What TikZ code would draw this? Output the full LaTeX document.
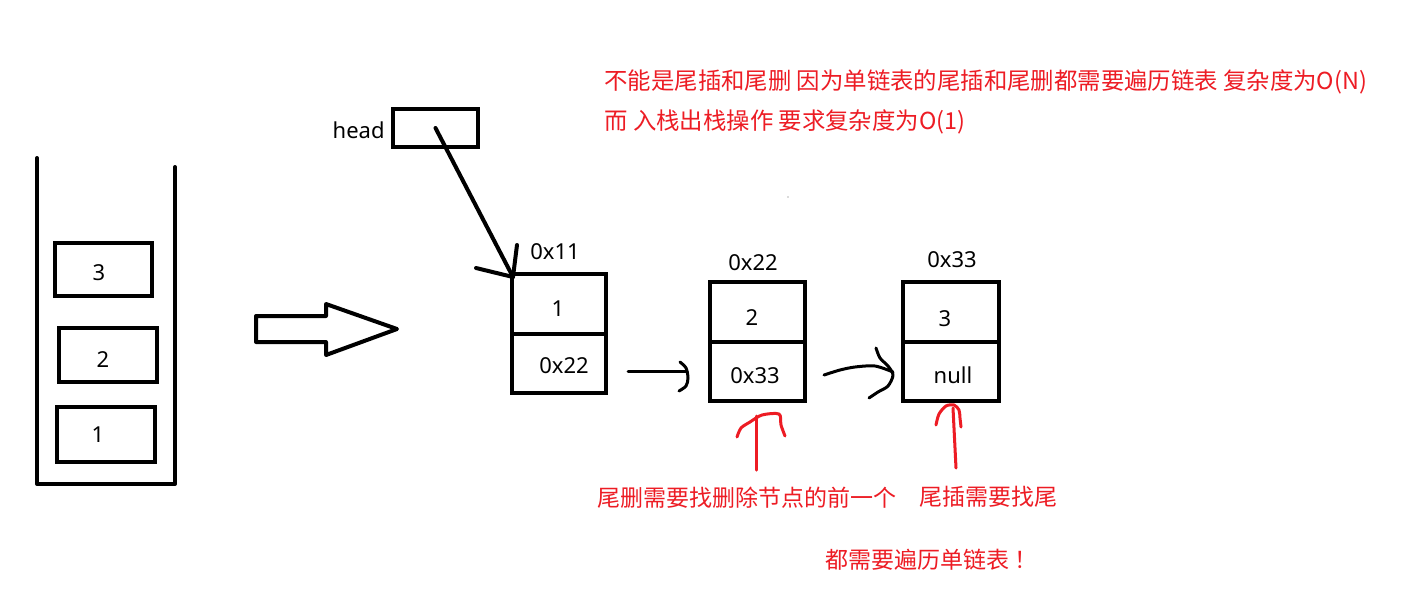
\documentclass[tikz,border=0pt]{standalone}
\usepackage{fontspec}
\setmainfont{Noto Sans}
\newfontfamily\cjk{Noto Sans CJK SC}
\definecolor{pred}{RGB}{237,28,36}
\tikzset{
  thick4/.style={line width=2pt, line join=round, line cap=round},
  cell/.style={draw, line width=2pt, inner sep=0pt},
  lbl/.style={inner sep=0pt, font=\fontsize{11}{13}\selectfont},
  pen/.style={line width=1.5pt, line cap=round, line join=round},
  redpen/.style={line width=1.5pt, line cap=round, line join=round, draw=pred},
  rtext/.style={inner sep=0pt, text=pred, font=\cjk\fontsize{11.5}{13}\selectfont}
}
\begin{document}
\begin{tikzpicture}[x=0.5pt,y=-0.5pt]
\useasboundingbox (0,0) rectangle (1424,601);
\fill[white] (0,0) rectangle (1424,601);

% stack
\draw[thick4] (37,158) -- (37,484) -- (175,484) -- (175,167);
\node[cell, minimum width=48.5pt, minimum height=26.5pt] (s3) at (103.5,269.5) {};
\node[cell, minimum width=49pt, minimum height=27pt] (s2) at (108,355) {};
\node[cell, minimum width=49pt, minimum height=27.5pt] (s1) at (106,434.5) {};
\node[lbl] (s3t) at (99,273) {3};
\node[lbl] (s2t) at (103,360) {2};
\node[lbl] (s1t) at (98,435) {1};

% hollow arrow
\draw[thick4] (256,316) -- (326,316) -- (326,304) -- (397,329) -- (326,355) -- (326,342) -- (256,342) -- cycle;

% head
\node[cell, minimum width=42.5pt, minimum height=19pt] (head) at (435.5,128) {};
\node[lbl, anchor=east] (headl) at (385,130) {head};

% node 1
\node[cell, minimum width=47pt, minimum height=30pt] (n1v) at (559,304) {};
\node[cell, minimum width=47pt, minimum height=29.5pt] (n1p) at (559,363.5) {};
\node[lbl] (n1vt) at (558,309) {1};
\node[lbl] (n1pt) at (564,366) {0x22};
\node[lbl] (n1a) at (555,252) {0x11};

% node 2
\node[cell, minimum width=47.5pt, minimum height=30pt] (n2v) at (757.5,312) {};
\node[cell, minimum width=47.5pt, minimum height=29.5pt] (n2p) at (757.5,371.5) {};
\node[lbl] (n2vt) at (752,318) {2};
\node[lbl] (n2pt) at (755,376) {0x33};
\node[lbl] (n2a) at (753,263) {0x22};

% node 3
\node[cell, minimum width=48pt, minimum height=30pt] (n3v) at (951,312) {};
\node[cell, minimum width=48pt, minimum height=29.5pt] (n3p) at (951,371.5) {};
\node[lbl] (n3vt) at (945,319) {3};
\node[lbl] (n3pt) at (953,375) {null};
\node[lbl] (n3a) at (952,260) {0x33};

% head -> node1
\coordinate (tip) at (513,277);
\draw[pen, line width=2pt] (head.center) -- (tip);
\draw[pen, line width=2pt] (476,268) -- (tip) -- (517,245);

% node1 -> node2
\coordinate (a1s) at (628,371);
\coordinate (a1e) at (687,371);
\draw[pen] (a1s) -- (a1e);
\draw[pen] plot[smooth] coordinates {(680,362) (686,368) (688,378) (686,386) (679,391)};

% node2 -> node3
\coordinate (a2s) at (824,375);
\coordinate (a2e) at (893,372);
\draw[pen] plot[smooth] coordinates {(a2s) (840,370) (855,367) (875,366) (a2e)};
\draw[pen] plot[smooth] coordinates {(876,348) (880,358) (888,366) (893,375) (888,386) (878,392) (869,398)};

% red arrows
\coordinate (r1b) at (756,470);
\coordinate (r1t) at (756,416);
\draw[redpen] (r1b) -- (r1t);
\draw[redpen] plot[smooth] coordinates {(737,437) (741,428) (750,422) (762,415) (779,414) (781,425) (785,436)};
\coordinate (r2b) at (956,468);
\coordinate (r2t) at (953,408);
\draw[redpen] (r2b) -- (r2t);
\draw[redpen] plot[smooth] coordinates {(936,425) (939,414) (946,406) (954,405) (959,410) (960,418) (961,427)};

% stray dot
\fill[black!60] (788,197) circle (0.6);

% red texts
\node[rtext, anchor=west, font=\cjk\fontsize{11.7}{13}\selectfont] (t1) at (604,82) {不能是尾插和尾删 因为单链表的尾插和尾删都需要遍历链表 复杂度为O(N)};
\node[rtext, anchor=west, font=\cjk\fontsize{11.7}{13}\selectfont] (t2) at (604,122) {而 入栈出栈操作 要求复杂度为O(1)};
\node[rtext] (t3) at (747,498) {尾删需要找删除节点的前一个};
\node[rtext] (t4) at (988,497) {尾插需要找尾};
\node[rtext, anchor=west] (t5) at (825,560) {都需要遍历单链表 ！};
\end{tikzpicture}
\end{document}
